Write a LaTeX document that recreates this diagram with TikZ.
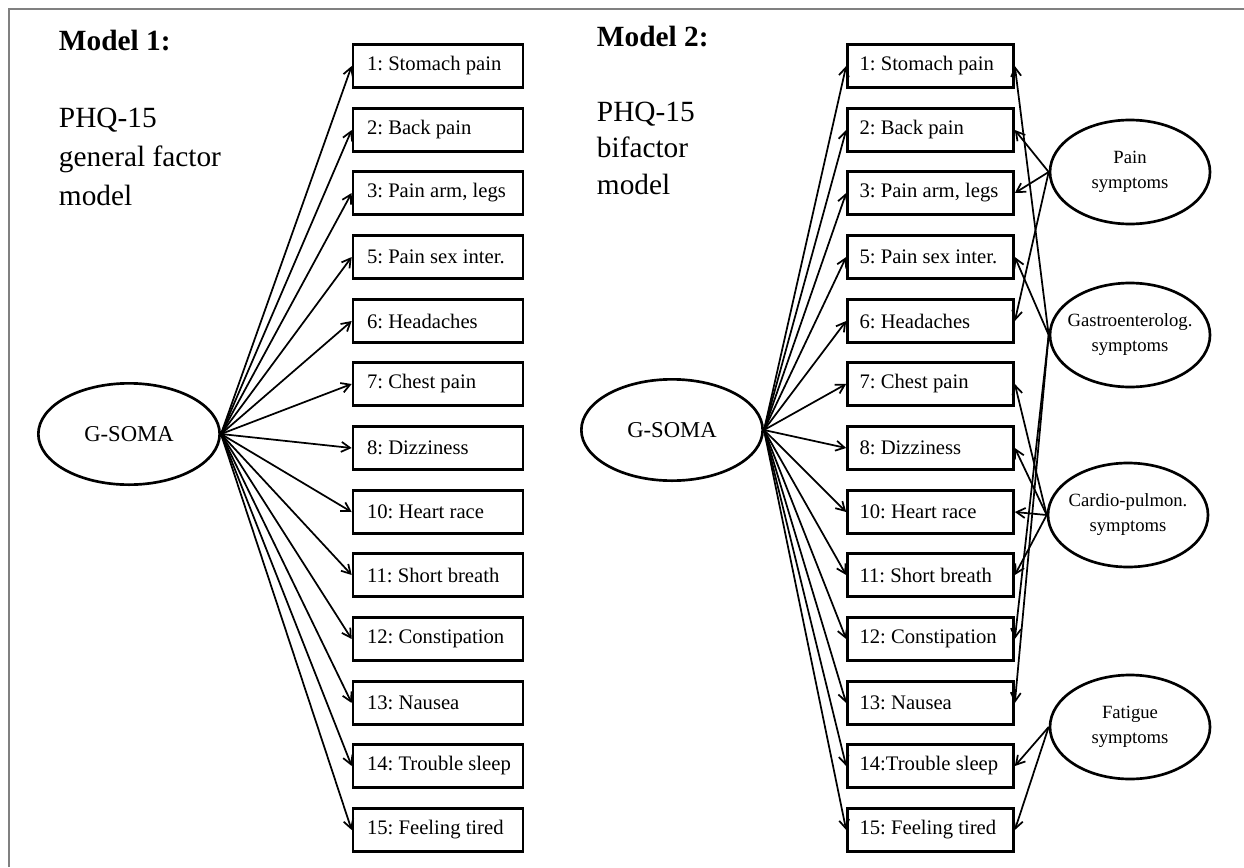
\documentclass[tikz,border=0pt]{standalone}
\usepackage{fontspec}
\setmainfont{Liberation Serif}
\usetikzlibrary{shapes.geometric,arrows.meta}
\newcommand{\itm}[1]{\makebox[106.5pt][l]{#1}}
\tikzset{every picture/.style={line width=0.75pt}}
\tikzset{
  itembox/.style={draw,line width=2pt,minimum height=32pt,inner xsep=10.5pt,font=\fontsize{15.5}{17}\selectfont\frenchspacing},
  itemboxr/.style={itembox,inner xsep=9pt},
  latent/.style={draw,ellipse,line width=2pt,inner xsep=-8pt,inner ysep=0pt,align=center,minimum width=120pt,minimum height=78pt,font=\fontsize{14}{18.75}\selectfont},
  general/.style={draw,ellipse,line width=2pt,inner sep=0pt,minimum width=136pt,minimum height=76pt,font=\fontsize{17}{20}\selectfont},
  load/.style={-{Straight Barb[length=6.5pt,width=7.5pt]},line width=1.3pt},
  title/.style={anchor=west,font=\bfseries\fontsize{22}{26}\selectfont},
}

\begin{document}
\begin{tikzpicture}[x=0.75pt,y=0.75pt,yscale=-1,xscale=1]
        \useasboundingbox (0,0) rectangle (1244,867);
        \draw[gray,line width=1.5pt] (8.5,867) -- (8.5,9) -- (1244,9);

        % Model 1
        \node[title] (t1) at (54,41) {Model 1:};
        \node[anchor=west,align=left,font=\fontsize{22}{29.25}\selectfont] (d1) at (54,157) {PHQ-15\\general factor\\model};
        \node[general] (g1) at (129,434) {G-SOMA};
        \node[itembox] (L1) at (438,66) {\itm{1: Stomach pain}};
        \node[itembox] (L2) at (438,130) {\itm{2: Back pain}};
        \node[itembox] (L3) at (438,193) {\itm{3: Pain arm, legs}};
        \node[itembox] (L5) at (438,257) {\itm{5: Pain sex inter.}};
        \node[itembox] (L6) at (438,321) {\itm{6: Headaches}};
        \node[itembox] (L7) at (438,384) {\itm{7: Chest pain}};
        \node[itembox] (L8) at (438,448) {\itm{8: Dizziness}};
        \node[itembox] (L10) at (438,512) {\itm{10: Heart race}};
        \node[itembox] (L11) at (438,575) {\itm{11: Short breath}};
        \node[itembox] (L12) at (438,639) {\itm{12: Constipation}};
        \node[itembox] (L13) at (438,703) {\itm{13: Nausea}};
        \node[itembox] (L14) at (438,766) {\itm{14: Trouble sleep}};
        \node[itembox] (L15) at (438,830) {\itm{15: Feeling tired}};
        \draw[load] (g1.east) -- (L1.west);
        \draw[load] (g1.east) -- (L2.west);
        \draw[load] (g1.east) -- (L3.west);
        \draw[load] (g1.east) -- (L5.west);
        \draw[load] (g1.east) -- (L6.west);
        \draw[load] (g1.east) -- (L7.west);
        \draw[load] (g1.east) -- (L8.west);
        \draw[load] (g1.east) -- (L10.west);
        \draw[load] (g1.east) -- (L11.west);
        \draw[load] (g1.east) -- (L12.west);
        \draw[load] (g1.east) -- (L13.west);
        \draw[load] (g1.east) -- (L14.west);
        \draw[load] (g1.east) -- (L15.west);

        % Model 2
        \node[title] (t2) at (592,37) {Model 2:};
        \node[anchor=west,align=left,font=\fontsize{22}{27.4}\selectfont] (d2) at (592,148) {PHQ-15\\bifactor\\model};
        \node[general] (g2) at (672,430) {G-SOMA};
        \node[itemboxr] (R1) at (930.5,66) {\itm{1: Stomach pain}};
        \node[itemboxr] (R2) at (930.5,130) {\itm{2: Back pain}};
        \node[itemboxr] (R3) at (930.5,193) {\itm{3: Pain arm, legs}};
        \node[itemboxr] (R5) at (930.5,257) {\itm{5: Pain sex inter.}};
        \node[itemboxr] (R6) at (930.5,321) {\itm{6: Headaches}};
        \node[itemboxr] (R7) at (930.5,384) {\itm{7: Chest pain}};
        \node[itemboxr] (R8) at (930.5,448) {\itm{8: Dizziness}};
        \node[itemboxr] (R10) at (930.5,512) {\itm{10: Heart race}};
        \node[itemboxr] (R11) at (930.5,575) {\itm{11: Short breath}};
        \node[itemboxr] (R12) at (930.5,639) {\itm{12: Constipation}};
        \node[itemboxr] (R13) at (930.5,703) {\itm{13: Nausea}};
        \node[itemboxr] (R14) at (930.5,766) {\itm{14:Trouble sleep}};
        \node[itemboxr] (R15) at (930.5,830) {\itm{15: Feeling tired}};
        \draw[load] (g2.east) -- (R1.west);
        \draw[load] (g2.east) -- (R2.west);
        \draw[load] (g2.east) -- (R3.west);
        \draw[load] (g2.east) -- (R5.west);
        \draw[load] (g2.east) -- (R6.west);
        \draw[load] (g2.east) -- (R7.west);
        \draw[load] (g2.east) -- (R8.west);
        \draw[load] (g2.east) -- (R10.west);
        \draw[load] (g2.east) -- (R11.west);
        \draw[load] (g2.east) -- (R12.west);
        \draw[load] (g2.east) -- (R13.west);
        \draw[load] (g2.east) -- (R14.west);
        \draw[load] (g2.east) -- (R15.west);

        % specific factors
        \node[latent] (pain) at (1130,172) {Pain\\symptoms};
        \node[latent] (gastro) at (1130,335) {Gastroenterolog.\\symptoms};
        \node[latent] (cardio) at (1128,515) {Cardio-pulmon.\\symptoms};
        \node[latent] (fatigue) at (1130,727) {Fatigue\\symptoms};
        \draw[load] (pain.west) -- (R2.east);
        \draw[load] (pain.west) -- (R3.east);
        \draw[load] (pain.west) -- (R6.east);
        \draw[load] (gastro.west) -- (R1.east);
        \draw[load] (gastro.west) -- (R5.east);
        \draw[load] (gastro.west) -- (R12.east);
        \draw[load] (gastro.west) -- (R13.east);
        \draw[load] (cardio.west) -- (R7.east);
        \draw[load] (cardio.west) -- (R8.east);
        \draw[load] (cardio.west) -- (R10.east);
        \draw[load] (cardio.west) -- (R11.east);
        \draw[load] (fatigue.west) -- (R14.east);
        \draw[load] (fatigue.west) -- (R15.east);
    \end{tikzpicture}
\end{document}
